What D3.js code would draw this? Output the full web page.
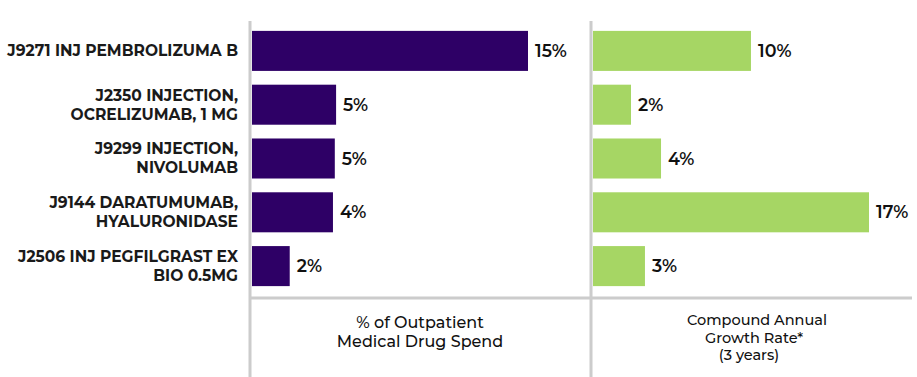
<!DOCTYPE html>
<html>
<head>
<meta charset="utf-8">
<script src="https://cdn.jsdelivr.net/npm/d3@7"></script>
<style>
  body { margin: 0; background: #fff; }
  text { font-family: "Montserrat", "Open Sans", sans-serif; }
</style>
</head>
<body>
<div id="chart"></div>
<script>
const w = 917, h = 377;

// data
const categories = [
  ["J9271 INJ PEMBROLIZUMA B"],
  ["J2350 INJECTION,", "OCRELIZUMAB, 1 MG"],
  ["J9299 INJECTION,", "NIVOLUMAB"],
  ["J9144 DARATUMUMAB,", "HYALURONIDASE"],
  ["J2506 INJ PEGFILGRAST EX", "BIO 0.5MG"]
];
const spendShare = [15.0, 4.57, 4.5, 4.4, 2.05];
const spendLabels = ["15%", "5%", "5%", "4%", "2%"];
const growthRate = [9.73, 2.34, 4.19, 17.0, 3.2];
const growthLabels = ["10%", "2%", "4%", "17%", "3%"];
const panelTitles = [
  ["% of Outpatient", "Medical Drug Spend"],
  ["Compound Annual", "Growth Rate*", "(3 years)"]
];

const svg = d3.select("#chart").append("svg")
  .attr("width", w)
  .attr("height", h);

let keys = categories.map((d, i) => i);

let y = d3.scaleBand()
  .domain(keys)
  .range([24, 293])
  .paddingInner(0.256)
  .paddingOuter(0.128);

let x1 = d3.scaleLinear().domain([0, 15]).range([252, 528]);
let x2 = d3.scaleLinear().domain([0, 17]).range([593, 869]);

// grid lines
svg.append("line")
  .attr("x1", 250).attr("x2", 250).attr("y1", 21).attr("y2", h)
  .attr("stroke", "#cccccc").attr("stroke-width", 3);
svg.append("line")
  .attr("x1", 591).attr("x2", 591).attr("y1", 21).attr("y2", h)
  .attr("stroke", "#cccccc").attr("stroke-width", 3);
svg.append("line")
  .attr("x1", 250).attr("x2", 912).attr("y1", 298).attr("y2", 298)
  .attr("stroke", "#cccccc").attr("stroke-width", 3);

// category labels
let cat = svg.append("g").selectAll("text")
  .data(categories)
  .join("text")
  .attr("x", 238)
  .attr("y", (d, i) => y(i) + y.bandwidth() / 2)
  .attr("text-anchor", "end")
  .attr("fill", "#1a1a1a")
  .style("font-size", "15.5px")
  .style("font-weight", 700);

cat.each(function (d) {
  let t = d3.select(this);
  let off = d.length === 1 ? [0] : [-9.5, 9.5];
  d.forEach((line, j) => {
    t.append("tspan")
      .attr("x", 238)
      .attr("y", +t.attr("y") + off[j])
      .attr("dy", "0.35em")
      .text(line);
  });
});

function drawBars(values, labels, x, color) {
  let g = svg.append("g");
  g.selectAll("rect")
    .data(values)
    .join("rect")
    .attr("x", x(0))
    .attr("y", (d, i) => y(i))
    .attr("width", d => x(d) - x(0))
    .attr("height", y.bandwidth())
    .attr("fill", color);

  g.selectAll("text")
    .data(values)
    .join("text")
    .attr("x", d => x(d) + 7)
    .attr("y", (d, i) => y(i) + y.bandwidth() / 2)
    .attr("dy", "0.35em")
    .attr("fill", "#111")
    .style("font-size", "17.5px")
    .style("font-weight", 600)
    .text((d, i) => labels[i]);
}

drawBars(spendShare, spendLabels, x1, "#2e0066");
drawBars(growthRate, growthLabels, x2, "#a6d664");

// panel titles
let titlePos = [
  { xs: [420, 420], ys: [322, 341] },
  { xs: [757, 754, 749], ys: [320, 337.5, 355] }
];
panelTitles.forEach((lines, k) => {
  svg.append("g").selectAll("text")
    .data(lines)
    .join("text")
    .attr("x", (d, j) => titlePos[k].xs[j])
    .attr("y", (d, j) => titlePos[k].ys[j])
    .attr("dy", "0.35em")
    .attr("text-anchor", "middle")
    .attr("fill", "#111")
    .style("font-size", k === 0 ? "16px" : "14.5px")
    .style("font-weight", 500)
    .text(d => d);
});
</script>
</body>
</html>
